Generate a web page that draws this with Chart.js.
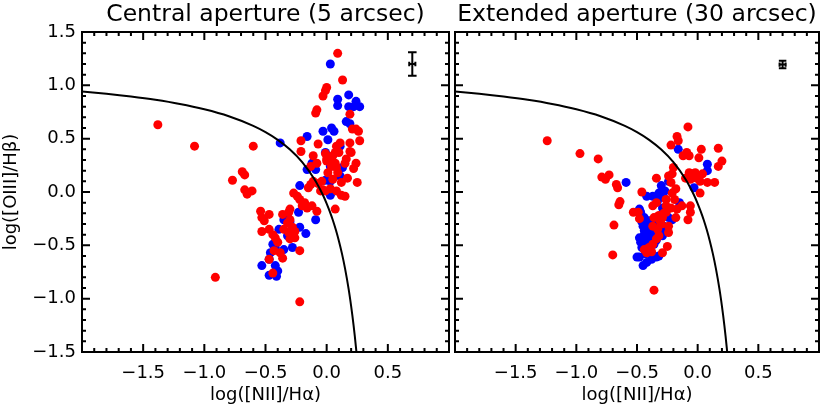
<!DOCTYPE html>
<html><head><meta charset="utf-8">
<script src="https://cdn.jsdelivr.net/npm/chart.js@4"></script>
<style>
html,body{margin:0;padding:0;background:#fff;width:830px;height:408px;overflow:hidden}
canvas{position:absolute;top:0}
#c1{left:0}
#c2{left:440px}
</style></head><body>
<canvas id="c1" width="460" height="408"></canvas>
<canvas id="c2" width="390" height="408"></canvas>
<script>
// ---------- data ----------
const titles = ['Central aperture (5 arcsec)', 'Extended aperture (30 arcsec)'];
const xTitle = 'log([NII]/H\u03b1)';
const yTitle = 'log([OIII]/H\u03b2)';
const xTicks = [-1.5, -1.0, -0.5, 0.0, 0.5];
const xTickLabels = ['\u22121.5', '\u22121.0', '\u22120.5', '0.0', '0.5'];
const yTicks = [-1.5, -1.0, -0.5, 0.0, 0.5, 1.0, 1.5];
const yTickLabels = ['\u22121.5', '\u22121.0', '\u22120.5', '0.0', '0.5', '1.0', '1.5'];

// Kewley et al. (2001) maximum-starburst line
const curveX = [-2.0,-1.8,-1.6,-1.4,-1.2,-1.0,-0.8,-0.6,-0.5,-0.4,-0.3,-0.2,-0.1,-0.05,-0.025,0.0,0.025,0.05,0.075,0.1,0.125,0.15,0.18,0.2,0.21,0.22,0.23,0.243];
const curveY = [0.943,0.921,0.895,0.864,0.825,0.775,0.710,0.620,0.561,0.489,0.398,0.280,0.120,0.017,-0.042,-0.108,-0.181,-0.262,-0.354,-0.459,-0.578,-0.716,-0.913,-1.069,-1.156,-1.25,-1.352,-1.497];

// Central aperture
const cRedX = [0.09,0.13,0.00,-0.01,-0.03,-0.08,-0.09,0.19,0.21,0.24,0.26,0.27,-1.38,-1.08,-0.60,-0.21,-0.21,-0.07,-0.77,-0.69,-0.67,-0.67,-0.65,-0.61,0.08,0.10,0.19,0.20,0.16,0.15,0.24,0.22,0.25,0.17,-0.01,0.00,0.03,0.05,0.07,0.08,0.04,0.01,0.09,0.05,-0.04,-0.07,-0.11,-0.13,-0.15,-0.05,-0.01,0.03,0.08,0.12,0.15,0.07,-0.08,-0.11,-0.13,-0.27,-0.24,-0.22,-0.20,-0.18,-0.16,-0.12,-0.08,-0.31,-0.30,-0.32,-0.28,-0.26,-0.31,-0.30,-0.26,-0.22,-0.54,-0.47,-0.53,-0.51,-0.53,-0.47,-0.44,-0.42,-0.40,-0.35,-0.36,-0.30,-0.43,-0.38,-0.36,-0.47,-0.44,-0.91,-0.22,0.11,0.07,0.12,0.19,0.0,0.04,-0.03];
const cRedY = [1.30,1.05,0.98,0.95,0.90,0.77,0.74,0.73,0.59,0.59,0.57,0.48,0.63,0.43,0.43,0.48,0.38,0.45,0.11,0.19,0.16,0.02,-0.02,0.01,0.43,0.37,0.46,0.37,0.31,0.27,0.27,0.22,0.09,0.13,0.36,0.31,0.32,0.34,0.27,0.23,0.24,0.18,0.18,0.12,0.10,0.08,0.10,0.07,0.04,0.01,0.01,0.03,0.01,-0.03,-0.04,-0.16,0.27,0.34,0.24,-0.01,-0.04,-0.07,-0.13,-0.10,-0.15,-0.13,-0.18,-0.19,-0.26,-0.29,-0.33,-0.37,-0.38,-0.44,-0.43,-0.55,-0.18,-0.21,-0.24,-0.27,-0.37,-0.35,-0.40,-0.43,-0.47,-0.35,-0.21,-0.16,-0.55,-0.57,-0.62,-0.63,-0.76,-0.80,-1.03,0.46,0.37,0.09,0.38,0.29,0.29,0.02];
const cBlueX = [0.03,0.09,0.09,0.18,0.18,0.24,0.27,0.22,0.16,0.19,0.04,0.06,-0.03,0.01,-0.16,-0.38,0.11,-0.12,-0.16,-0.01,0.03,0.11,0.03,0.13,0.03,-0.22,-0.09,-0.23,-0.32,-0.35,-0.30,-0.22,-0.17,-0.39,-0.32,-0.28,-0.42,-0.35,-0.46,-0.47,-0.53,-0.42,-0.47,-0.41,-0.40,-0.44,-0.01,-0.09];
const cBlueY = [1.20,0.87,0.81,0.91,0.80,0.85,0.80,0.80,0.66,0.64,0.60,0.57,0.57,0.49,0.52,0.46,0.43,0.27,0.21,0.37,0.24,0.15,0.10,0.23,-0.03,0.06,-0.26,-0.19,-0.21,-0.26,-0.28,-0.33,-0.39,-0.35,-0.41,-0.52,-0.52,-0.54,-0.57,-0.63,-0.69,-0.69,-0.78,-0.79,-0.74,-0.49,0.11,0.21];

// Extended aperture
const eRedX = [-0.08,-0.17,-0.16,-0.22,-1.24,-0.97,-0.82,-0.79,-0.73,-0.76,-0.67,-0.66,-0.64,-0.65,-0.69,-0.70,-0.36,0.17,0.20,0.17,0.03,0.01,-0.09,-0.07,-0.12,-0.20,-0.24,-0.21,-0.07,-0.05,-0.02,-0.01,-0.06,-0.10,0.02,0.08,0.14,0.04,0.02,-0.34,-0.22,-0.18,-0.21,-0.46,-0.26,-0.19,-0.13,-0.06,-0.06,-0.08,-0.17,-0.22,-0.26,-0.29,-0.32,-0.36,-0.37,-0.33,-0.32,-0.34,-0.37,-0.40,-0.44,-0.42,-0.38,-0.29,-0.25,-0.24,-0.24,-0.48,-0.53,-0.49,-0.26,-0.37,-0.18,-0.34,-0.30,-0.31,-0.28];
const eRedY = [0.61,0.52,0.48,0.44,0.48,0.36,0.31,0.14,0.16,0.12,0.07,0.04,-0.09,-0.12,-0.31,-0.59,-0.92,0.41,0.29,0.24,0.40,0.32,0.37,0.34,0.34,0.23,0.15,0.17,0.18,0.17,0.18,0.13,0.12,0.13,0.10,0.09,0.09,0.17,-0.01,0.13,0.09,0.03,-0.01,0.00,-0.07,-0.07,-0.13,-0.13,-0.19,-0.26,-0.16,-0.15,-0.19,-0.24,-0.22,-0.24,-0.32,-0.35,-0.41,-0.44,-0.49,-0.52,-0.54,-0.57,-0.56,-0.57,-0.51,-0.38,-0.32,-0.25,-0.19,-0.19,-0.13,-0.13,-0.24,-0.10,-0.30,-0.27,-0.20];
const eBlueX = [-0.16,0.08,0.08,-0.59,-0.42,-0.32,-0.27,-0.24,-0.03,-0.15,-0.33,-0.48,-0.47,-0.45,-0.40,-0.42,-0.48,-0.45,-0.38,-0.34,-0.29,-0.30,-0.36,-0.50,-0.48,-0.45,-0.42,-0.38,-0.34,-0.32,-0.41,-0.40,-0.28,-0.24,-0.21,-0.29,-0.42,-0.44,-0.39,-0.43,-0.46,-0.44,-0.42,-0.40,-0.46,-0.38,-0.36,-0.34,-0.44,-0.40,-0.36,-0.47,-0.43,-0.38,-0.37,-0.30,-0.28];
const eBlueY = [0.40,0.26,0.20,0.09,-0.04,-0.01,0.01,0.10,0.04,-0.10,-0.08,-0.16,-0.19,-0.32,-0.32,-0.38,-0.43,-0.44,-0.41,-0.35,-0.41,-0.35,-0.49,-0.61,-0.61,-0.69,-0.66,-0.63,-0.61,-0.60,-0.57,-0.38,-0.32,-0.24,-0.26,-0.15,-0.30,-0.36,-0.45,-0.47,-0.28,-0.40,-0.50,-0.55,-0.52,-0.48,-0.40,-0.45,-0.24,-0.27,-0.30,-0.47,-0.58,-0.58,-0.04,0.06,-0.05];

// Typical error bars: [x, y, xHalf, yHalf, capHalfX, capHalfY]
const cErr = [0.70, 1.20, 0.025, 0.11, 0.035, 0.02];
const eErr = [0.70, 1.195, 0.025, 0.036, 0.031, 0.02];

// ---------- helpers ----------
const pts = (xs, ys) => xs.map((x, i) => ({x, y: ys[i]}));
function errSegments(e) {
  const [x, y, hx, hy, cx, cy] = e;
  const gap = {x: NaN, y: null};
  return [
    {x, y: y - hy}, {x, y: y + hy}, gap,
    {x: x - cx, y: y + hy}, {x: x + cx, y: y + hy}, gap,
    {x: x - cx, y: y - hy}, {x: x + cx, y: y - hy}, gap,
    {x: x - hx, y}, {x: x + hx, y}, gap,
    {x: x - hx, y: y - cy}, {x: x - hx, y: y + cy}, gap,
    {x: x + hx, y: y - cy}, {x: x + hx, y: y + cy}
  ];
}
const fmt = (v, ticks, labels) => {
  const i = ticks.findIndex(t => Math.abs(t - v) < 1e-6);
  return i >= 0 ? labels[i] : '';
};

Chart.defaults.font.family = "'DejaVu Sans', sans-serif";
Chart.defaults.color = '#000';

const framePlugin = {
  id: 'frame',
  afterDatasetsDraw(chart) {
    const {ctx, chartArea: a, scales: {x, y}} = chart;
    ctx.save();
    ctx.strokeStyle = '#000';
    ctx.lineWidth = 2;
    ctx.beginPath();
    const nx = Math.round((x.max - x.min) / 0.1);
    for (let i = 0; i <= nx; i++) {
      const p = x.getPixelForValue(x.min + i * 0.1);
      const L = (i % 5 === 0) ? 8 : 4;
      ctx.moveTo(p, a.bottom); ctx.lineTo(p, a.bottom - L);
      ctx.moveTo(p, a.top); ctx.lineTo(p, a.top + L);
    }
    const ny = Math.round((y.max - y.min) / 0.1);
    for (let i = 0; i <= ny; i++) {
      const p = y.getPixelForValue(y.min + i * 0.1);
      const L = (i % 5 === 0) ? 8 : 4;
      ctx.moveTo(a.left, p); ctx.lineTo(a.left + L, p);
      ctx.moveTo(a.right, p); ctx.lineTo(a.right - L, p);
    }
    ctx.stroke();
    ctx.strokeRect(a.left, a.top, a.right - a.left, a.bottom - a.top);
    ctx.restore();
  }
};

function makeChart(id, title, red, blue, err, showY, yWidth, padRight) {
  return new Chart(document.getElementById(id), {
    type: 'scatter',
    data: {
      datasets: [
        {data: pts(curveX, curveY), showLine: true, borderColor: '#000', borderWidth: 2,
         pointRadius: 0, cubicInterpolationMode: 'monotone', fill: false},
        {data: errSegments(err), showLine: true, borderColor: '#000', borderWidth: 2,
         pointRadius: 0, spanGaps: false, fill: false},
        {data: red, backgroundColor: '#ff0000', borderWidth: 0, pointRadius: 4.5},
        {data: blue, backgroundColor: '#0000ff', borderWidth: 0, pointRadius: 4.5}
      ]
    },
    options: {
      responsive: false, animation: false, devicePixelRatio: 1, events: [],
      layout: {padding: {left: 0, right: padRight, top: 0, bottom: 0}},
      plugins: {
        legend: {display: false}, tooltip: {enabled: false},
        title: {display: true, text: title, fullSize: false, color: '#000',
                font: {size: 23.5, weight: 'normal', lineHeight: 1}, padding: {top: 3, bottom: 5.5}}
      },
      scales: {
        x: {
          type: 'linear', position: 'bottom', min: -2, max: 1,
          ticks: {stepSize: 0.5, autoSkip: false, maxRotation: 0, padding: 11,
                  font: {size: 18}, callback: v => fmt(v, xTicks, xTickLabels)},
          grid: {display: false, drawTicks: false}, border: {display: false},
          title: {display: true, text: xTitle, font: {size: 18, lineHeight: 1.2}, padding: {top: 0, bottom: 2}},
          afterFit: s => { s.height = 56; }
        },
        y: {
          type: 'linear', position: 'left', min: -1.5, max: 1.5,
          ticks: {display: showY, stepSize: 0.5, autoSkip: false, padding: 6,
                  font: {size: 18}, callback: v => fmt(v, yTicks, yTickLabels)},
          grid: {display: false, drawTicks: false}, border: {display: false},
          title: {display: showY, text: yTitle, font: {size: 18, lineHeight: 1.2}, padding: {top: 1, bottom: 0}},
          afterFit: s => { s.width = yWidth; }
        }
      }
    },
    plugins: [framePlugin]
  });
}

makeChart('c1', titles[0], pts(cRedX, cRedY), pts(cBlueX, cBlueY), cErr, true, 82, 5);
makeChart('c2', titles[1], pts(eRedX, eRedY), pts(eBlueX, eBlueY), eErr, false, 15, 4);
</script>
</body></html>
